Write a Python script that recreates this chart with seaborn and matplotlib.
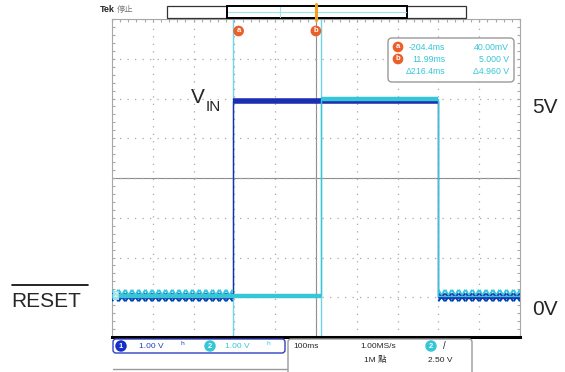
import numpy as np
import pandas as pd
import seaborn as sns
import matplotlib
matplotlib.use("Agg")
import matplotlib.pyplot as plt
from matplotlib import patheffects as pe
from matplotlib.patches import FancyBboxPatch, Rectangle
from matplotlib.ticker import MultipleLocator, NullFormatter

sns.set_style("white")
plt.rcParams["font.family"] = ["Liberation Sans", "Noto Sans CJK TC", "DejaVu Sans"]

# ---- scope settings -------------------------------------------------------
time_per_div_ms = 100
volts_per_div = 1.0
ch_position_div = -3          # both channels are moved 3 div below centre
n_hdiv, n_vdiv = 10, 8

# ---- waveforms: breakpoints (ms) and the level held from each one on -------
vin_t_ms = [-500.0, -204.4, 300.0, 500.0]
vin_v = [0.0, 4.94, 0.0, 0.0]
reset_t_ms = [-500.0, 11.99, 300.0, 500.0]
reset_v = [0.04, 5.00, 0.04, 0.04]

# spans where the ripple shows on the low level of both traces
ripple_spans_ms = [(-500.0, -204.4), (300.0, 500.0)]

# ---- cursors --------------------------------------------------------------
cursor_a_ms, cursor_a_v = -204.4, 0.040
cursor_b_ms, cursor_b_v = 11.99, 5.000

BLUE = "#1b2fb0"
CYAN = "#35c6d8"
ORANGE = "#ea5f2a"
GRID = "#a8a8a8"
W, H = 565, 372

fig = plt.figure(figsize=(W / 100, H / 100), dpi=100)
fig.patch.set_facecolor("white")

# graticule position in pixels
gx0, gx1, gy0, gy1 = 112, 520, 19, 337
rect = [gx0 / W, 1 - gy1 / H, (gx1 - gx0) / W, (gy1 - gy0) / H]
ax = fig.add_axes(rect)

t_half = n_hdiv / 2 * time_per_div_ms
v_centre = -ch_position_div * volts_per_div
v_half = n_vdiv / 2 * volts_per_div
xlim = (-t_half, t_half)
ylim = (v_centre - v_half, v_centre + v_half)

# ---- traces ---------------------------------------------------------------
df_vin = pd.DataFrame({"t": vin_t_ms, "v": vin_v})
df_reset = pd.DataFrame({"t": reset_t_ms, "v": reset_v})

sns.lineplot(data=df_vin, x="t", y="v", ax=ax, drawstyle="steps-post",
             estimator=None, sort=False, color=BLUE, lw=1.0, zorder=3)
sns.lineplot(data=df_reset, x="t", y="v", ax=ax, drawstyle="steps-post",
             estimator=None, sort=False, color=CYAN, lw=1.0, zorder=4)


def in_ripple(t0, t1):
    return any(t0 >= s0 and t1 <= s1 for s0, s1 in ripple_spans_ms)


# thick level bands outside the ripple spans
for t, v, col, lw, z in ((vin_t_ms, vin_v, BLUE, 4.0, 3), (reset_t_ms, reset_v, CYAN, 3.2, 4)):
    for i in range(len(t) - 1):
        if not in_ripple(t[i], t[i + 1]):
            ax.hlines(v[i], t[i], t[i + 1], color=col, lw=lw, zorder=z)


def zigzag(spacing, angle, length, lw, col):
    a = angle
    return [pe.TickedStroke(spacing=spacing, angle=a, length=length, linewidth=lw, foreground=col),
            pe.TickedStroke(spacing=spacing, angle=180 - a, length=length, linewidth=lw, foreground=col),
            pe.TickedStroke(spacing=spacing, angle=-a, length=length, linewidth=lw, foreground=col),
            pe.TickedStroke(spacing=spacing, angle=a - 180, length=length, linewidth=lw, foreground=col),
            pe.Normal()]


# ripple on the low level
for s0, s1 in ripple_spans_ms:
    ax.plot([s0, s1], [reset_v[0]] * 2, color=CYAN, lw=2.0, zorder=3.5,
            path_effects=zigzag(4.6, 62, 1.05, 1.5, CYAN), solid_capstyle="butt")
    ax.plot([s0, s1], [vin_v[0]] * 2, color=BLUE, lw=2.0, zorder=3.6,
            path_effects=zigzag(4.6, 50, 0.78, 1.2, BLUE), solid_capstyle="butt")

ax.set_xlim(*xlim)
ax.set_ylim(*ylim)
ax.xaxis.set_major_locator(MultipleLocator(time_per_div_ms))
ax.yaxis.set_major_locator(MultipleLocator(volts_per_div))
ax.xaxis.set_minor_locator(MultipleLocator(time_per_div_ms / 5))
ax.yaxis.set_minor_locator(MultipleLocator(volts_per_div / 5))
ax.xaxis.set_major_formatter(NullFormatter())
ax.yaxis.set_major_formatter(NullFormatter())
ax.set_xlabel("")
ax.set_ylabel("")
ax.grid(True, which="major", color=GRID, lw=0.9, linestyle=(0, (1, 5)))
ax.tick_params(which="both", direction="in", length=2.5, color=GRID,
               top=True, right=True, bottom=False, left=True, width=0.8)
for side in ("left", "right", "top"):
    ax.spines[side].set_color(GRID)
    ax.spines[side].set_linewidth(0.8)
ax.spines["bottom"].set_color("black")
ax.spines["bottom"].set_linewidth(2.2)
ax.set_zorder(1)
ax.patch.set_visible(False)

# centre cross with its fine ticks
axc = fig.add_axes(rect)
axc.set_xlim(*xlim)
axc.set_ylim(*ylim)
axc.xaxis.set_minor_locator(MultipleLocator(time_per_div_ms / 5))
axc.yaxis.set_minor_locator(MultipleLocator(volts_per_div / 5))
axc.xaxis.set_major_locator(MultipleLocator(time_per_div_ms))
axc.yaxis.set_major_locator(MultipleLocator(volts_per_div))
axc.patch.set_visible(False)
axc.spines["left"].set_position(("data", 0))
axc.spines["bottom"].set_position(("data", v_centre))
for side in ("top", "right"):
    axc.spines[side].set_visible(False)
for side in ("left", "bottom"):
    axc.spines[side].set_color("#8c8c8c")
    axc.spines[side].set_linewidth(0.8)
axc.tick_params(which="both", direction="inout", length=4, color="#8c8c8c",
                width=0.8, labelbottom=False, labelleft=False)
axc.set_zorder(0.5)

# cursor lines and their markers
for tc, lab, dx in ((cursor_a_ms, "a", 6), (cursor_b_ms, "b", -5)):
    ax.axvline(tc, color="#6fd6e2", lw=1.0, zorder=2.5)
    ax.annotate(lab, xy=(tc, 1), xycoords=("data", "axes fraction"),
                xytext=(dx, -12), textcoords="offset pixels",
                ha="center", va="center", fontsize=5.5, color="white",
                fontweight="bold",
                bbox=dict(boxstyle="circle,pad=0.15", fc=ORANGE, ec=ORANGE))

# channel-2 ground marker on the left edge
ax.annotate("2", xy=(0, reset_v[0]), xycoords=("axes fraction", "data"),
            xytext=(4, 0), textcoords="offset pixels", ha="center", va="center",
            fontsize=5, color="white",
            bbox=dict(boxstyle="square,pad=0.1", fc="#9fe0e8", ec="none"), zorder=6)

# ---- overlay in pixel coordinates for the scope chrome --------------------
ov = fig.add_axes([0, 0, 1, 1])
ov.set_xlim(0, W)
ov.set_ylim(H, 0)
ov.axis("off")
ov.patch.set_visible(False)
ov.set_zorder(5)

ov.text(100, 9, "Tek", fontsize=6.5, fontweight="bold", ha="left", va="center")
ov.text(117, 9, "停止", fontsize=6, color="#777777", ha="left", va="center",
        family=["Noto Sans CJK TC", "DejaVu Sans"])

# record view bar
ov.add_patch(Rectangle((167, 6), 299, 12, fc="white", ec="#333333", lw=0.9))
ov.add_patch(Rectangle((227, 6), 180, 12, fc="white", ec="black", lw=1.4))
ov.plot([228, 406], [12, 12], color="#9fe3ea", lw=0.8)
ov.plot([280, 280], [7, 17], color="#9fe3ea", lw=0.8)
ov.plot([316, 316], [4, 20], color="#f0a020", lw=2.2)

# cursor readout
ov.add_patch(FancyBboxPatch((388, 38), 126, 44, boxstyle="round,pad=0,rounding_size=4",
                            fc="white", ec="#9a9a9a", lw=1.0))
rows = [
    ("a", f"{cursor_a_ms:.1f}ms", f"{cursor_a_v * 1000:.2f}mV"),
    ("b", f"{cursor_b_ms:.2f}ms", f"{cursor_b_v:.3f} V"),
    (None, f"Δ{cursor_b_ms - cursor_a_ms:.1f}ms", f"Δ{cursor_b_v - cursor_a_v:.3f} V"),
]
for i, (mk, tstr, vstr) in enumerate(rows):
    y = 47 + i * 12
    if mk:
        ov.text(398, y, mk, fontsize=5.5, color="white", fontweight="bold",
                ha="center", va="center",
                bbox=dict(boxstyle="circle,pad=0.15", fc=ORANGE, ec=ORANGE))
    ov.text(445, y, tstr, fontsize=6.3, color=CYAN, ha="right", va="center")
    ov.text(509, y, vstr, fontsize=6.3, color=CYAN, ha="right", va="center")

# channel / timebase info
ov.add_patch(FancyBboxPatch((113, 339), 172, 14, boxstyle="round,pad=0,rounding_size=3",
                            fc="white", ec="#3040c0", lw=1.0))
ov.add_patch(FancyBboxPatch((288, 339), 184, 40, boxstyle="round,pad=0,rounding_size=3",
                            fc="white", ec="#9a9a9a", lw=1.0))
ov.plot([113, 287], [369, 369], color="#9a9a9a", lw=1.0)


def chan_badge(x, y, n, col):
    ov.text(x, y, n, fontsize=5.5, color="white", fontweight="bold", ha="center",
            va="center", bbox=dict(boxstyle="circle,pad=0.2", fc=col, ec=col))


chan_badge(121, 346, "1", "#1530c8")
ov.text(139, 346, f"{volts_per_div:.2f} V", fontsize=6, color="#2040c0", ha="left", va="center")
ov.text(182, 346, "ʰ", fontsize=7, color="#2040c0", ha="center", va="center",
        family=["DejaVu Sans"])
chan_badge(210, 346, "2", CYAN)
ov.text(225, 346, f"{volts_per_div:.2f} V", fontsize=6, color=CYAN, ha="left", va="center")
ov.text(268, 346, "ʰ", fontsize=7, color=CYAN, ha="center", va="center",
        family=["DejaVu Sans"])

ov.text(293, 346, f"{time_per_div_ms}ms", fontsize=6, ha="left", va="center")
ov.text(360, 346, "1.00MS/s", fontsize=6, ha="left", va="center")
ov.text(364, 360, "1M 點", fontsize=6, ha="left", va="center",
        family=["Liberation Sans", "Noto Sans CJK TC"])
chan_badge(431, 346, "2", CYAN)
ov.text(443, 346, "/", fontsize=7, ha="left", va="center")
ov.text(428, 360, "2.50 V", fontsize=6, ha="left", va="center")

# signal labels
ov.text(191, 103, "V", fontsize=15, ha="left", va="baseline")
ov.text(206, 111, "IN", fontsize=11, ha="left", va="baseline")
ov.text(532, 113, "5V", fontsize=15, ha="left", va="baseline")
ov.text(11, 307, "RESET", fontsize=15, ha="left", va="baseline")
ov.plot([12, 88], [285, 285], color="black", lw=1.2)
ov.text(532, 315, "0V", fontsize=15, ha="left", va="baseline")

fig.savefig("out.png", dpi=100, facecolor="white")
